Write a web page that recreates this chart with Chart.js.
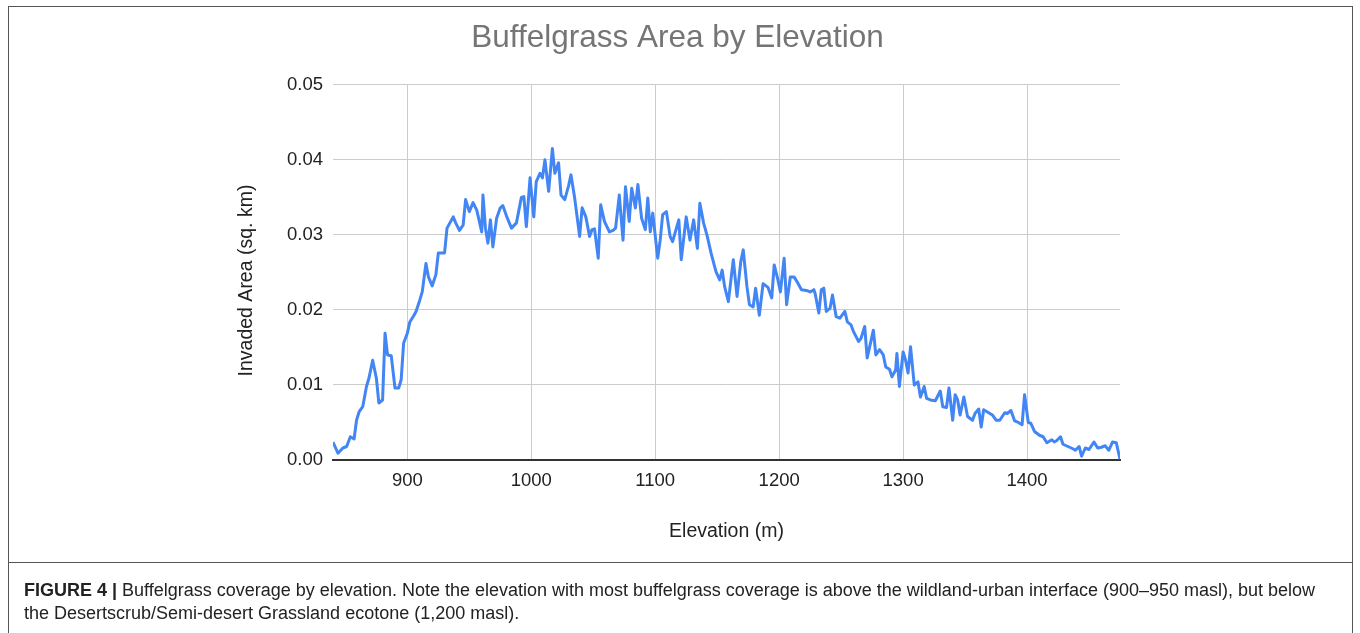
<!DOCTYPE html>
<html lang="en">
<head>
  <meta charset="UTF-8">
  <title>Buffelgrass Area by Elevation</title>
  <script src="https://cdn.jsdelivr.net/npm/chart.js"></script>
  <style>
    body { margin: 0; background: #fff; font-family: "Liberation Sans", Arial, sans-serif; }
    .page { position: relative; width: 1360px; height: 633px; overflow: hidden; }
    .frame { position: absolute; left: 8px; top: 6px; width: 1343px; height: 700px; border: 1px solid #555; }
    .rule { position: absolute; left: 8px; top: 562px; width: 1345px; height: 1px; background: #555; }
    #chart { position: absolute; left: 0; top: 0; }
    .caption { position: absolute; left: 24px; top: 579px; width: 1310px; font-size: 18px; line-height: 23px; color: #222; }
    .caption b { font-weight: bold; }
  </style>
</head>
<body>
  <div class="page">
    <canvas id="chart" width="1360" height="560"></canvas>
    <div class="frame"></div>
    <div class="rule"></div>
    <div class="caption"><b>FIGURE 4 |</b> Buffelgrass coverage by elevation. Note the elevation with most buffelgrass coverage is above the wildland-urban interface (900–950 masl), but below the Desertscrub/Semi-desert Grassland ecotone (1,200 masl).</div>
  </div>

  <script>
// elevation (m) and invaded area (sq. km)
const elevation = [
  840, 844, 848, 851, 854, 857, 859, 861, 864, 867, 869, 872, 875, 877, 880, 882, 884, 887, 890, 893,
  895, 897, 900, 902, 905, 907, 910, 912, 915, 917, 920, 923, 925, 928, 930, 932, 935, 937, 939, 942,
  945, 947, 950, 953, 956, 960, 961, 963, 965, 967, 969, 972, 975, 977, 980, 984, 988, 992, 994, 996,
  999, 1002, 1004, 1007, 1009, 1011, 1014, 1017, 1019, 1022, 1024, 1027, 1030, 1032, 1035, 1039, 1041, 1044, 1047, 1049,
  1051, 1054, 1056, 1059, 1063, 1066, 1068, 1071, 1074, 1076, 1079, 1081, 1084, 1086, 1089, 1092, 1094, 1096, 1098, 1102,
  1104, 1106, 1109, 1112, 1114, 1119, 1121, 1125, 1128, 1131, 1134, 1136, 1139, 1142, 1145, 1149, 1152, 1154, 1156, 1159,
  1163, 1166, 1169, 1171, 1174, 1176, 1179, 1181, 1184, 1187, 1191, 1194, 1196, 1199, 1201, 1204, 1206, 1209, 1212, 1215,
  1218, 1222, 1225, 1228, 1229, 1232, 1234, 1236, 1238, 1241, 1243, 1246, 1249, 1253, 1255, 1258, 1260, 1264, 1266, 1269,
  1271, 1274, 1276, 1278, 1281, 1284, 1286, 1289, 1291, 1294, 1295, 1297, 1300, 1302, 1304, 1306, 1309, 1312, 1314, 1317,
  1319, 1322, 1326, 1330, 1332, 1335, 1337, 1340, 1342, 1344, 1346, 1349, 1352, 1356, 1358, 1361, 1363, 1365, 1368, 1372,
  1375, 1378, 1382, 1384, 1387, 1390, 1393, 1396, 1398, 1401, 1403, 1406, 1410, 1413, 1416, 1420, 1422, 1424, 1427, 1429,
  1433, 1437, 1439, 1442, 1444, 1447, 1450, 1454, 1457, 1460, 1463, 1466, 1469, 1472, 1475
];
const area = [
  0.0024, 0.0009, 0.0016, 0.0018, 0.0031, 0.0028, 0.0053, 0.0064, 0.0071, 0.0098, 0.0109, 0.0133, 0.0109, 0.0076, 0.0080, 0.0169, 0.0140, 0.0139, 0.0096, 0.0096,
  0.0107, 0.0156, 0.0169, 0.0184, 0.0192, 0.0198, 0.0213, 0.0224, 0.0262, 0.0244, 0.0232, 0.0247, 0.0276, 0.0276, 0.0276, 0.0309, 0.0318, 0.0324, 0.0316, 0.0306,
  0.0313, 0.0347, 0.0331, 0.0343, 0.0333, 0.0304, 0.0353, 0.0309, 0.0289, 0.0320, 0.0284, 0.0322, 0.0336, 0.0339, 0.0325, 0.0309, 0.0316, 0.0350, 0.0351, 0.0311,
  0.0376, 0.0324, 0.0371, 0.0382, 0.0376, 0.0400, 0.0358, 0.0415, 0.0382, 0.0396, 0.0353, 0.0347, 0.0365, 0.0380, 0.0349, 0.0298, 0.0336, 0.0324, 0.0298, 0.0307,
  0.0308, 0.0269, 0.0340, 0.0318, 0.0304, 0.0306, 0.0309, 0.0353, 0.0293, 0.0364, 0.0318, 0.0362, 0.0336, 0.0367, 0.0322, 0.0307, 0.0349, 0.0304, 0.0329, 0.0269,
  0.0293, 0.0327, 0.0331, 0.0298, 0.0291, 0.0320, 0.0267, 0.0324, 0.0293, 0.0320, 0.0282, 0.0342, 0.0316, 0.0298, 0.0276, 0.0251, 0.0240, 0.0253, 0.0231, 0.0211,
  0.0267, 0.0218, 0.0264, 0.0280, 0.0231, 0.0207, 0.0204, 0.0229, 0.0193, 0.0235, 0.0230, 0.0216, 0.0260, 0.0240, 0.0224, 0.0269, 0.0207, 0.0244, 0.0244, 0.0236,
  0.0227, 0.0226, 0.0224, 0.0227, 0.0222, 0.0196, 0.0227, 0.0229, 0.0198, 0.0202, 0.0220, 0.0191, 0.0189, 0.0198, 0.0184, 0.0180, 0.0171, 0.0158, 0.0162, 0.0178,
  0.0136, 0.0158, 0.0173, 0.0140, 0.0147, 0.0140, 0.0124, 0.0121, 0.0111, 0.0120, 0.0142, 0.0098, 0.0144, 0.0133, 0.0116, 0.0151, 0.0100, 0.0104, 0.0084, 0.0098,
  0.0082, 0.0080, 0.0079, 0.0092, 0.0071, 0.0070, 0.0096, 0.0053, 0.0087, 0.0080, 0.0060, 0.0084, 0.0058, 0.0053, 0.0062, 0.0068, 0.0044, 0.0067, 0.0064, 0.0060,
  0.0053, 0.0053, 0.0063, 0.0062, 0.0066, 0.0052, 0.0050, 0.0047, 0.0087, 0.0050, 0.0049, 0.0038, 0.0033, 0.0031, 0.0023, 0.0027, 0.0024, 0.0026, 0.0031, 0.0021,
  0.0018, 0.0015, 0.0013, 0.0018, 0.0005, 0.0016, 0.0014, 0.0024, 0.0016, 0.0017, 0.0019, 0.0013, 0.0024, 0.0023, 0.0001
];

// axis settings
const xMin = 840, xMax = 1475, xStep = 100;
const yMin = 0, yMax = 0.05, yStep = 0.01;

const points = elevation.map((e, i) => ({ x: e, y: area[i] }));
const font = "'Liberation Sans', Arial, sans-serif";

new Chart(document.getElementById("chart"), {
  type: 'line',
  data: {
    datasets: [{
      label: 'Invaded Area',
      data: points,
      borderColor: '#4285f4',
      borderWidth: 3,
      pointRadius: 0,
      tension: 0,
      borderJoinStyle: 'round',
      fill: false
    }]
  },
  options: {
    responsive: false,
    animation: false,
    devicePixelRatio: 1,
    layout: { padding: { left: 235, right: 240, top: 0, bottom: 15 } },
    plugins: {
      legend: { display: false },
      tooltip: { enabled: false },
      title: {
        display: true,
        text: 'Buffelgrass Area by Elevation',
        color: '#757575',
        font: { family: font, size: 31.5, weight: 'normal' },
        padding: { top: 19, bottom: 28 }
      }
    },
    scales: {
      x: {
        type: 'linear',
        min: xMin,
        max: xMax,
        afterFit: s => { s.height = 85; },
        ticks: {
          stepSize: xStep,
          includeBounds: false,
          color: '#222',
          padding: 10,
          maxRotation: 0,
          font: { family: font, size: 18.5 },
          callback: v => String(v)
        },
        grid: { color: '#cccccc', lineWidth: 1, drawTicks: false },
        border: { display: true, color: '#333', width: 2 },
        title: {
          display: true,
          text: 'Elevation (m)',
          color: '#222',
          font: { family: font, size: 19.5 },
          padding: { top: 0, bottom: 2 }
        }
      },
      y: {
        min: yMin,
        max: yMax,
        afterFit: s => { s.width = 98; },
        ticks: {
          stepSize: yStep,
          color: '#222',
          padding: 10,
          font: { family: font, size: 18.5 },
          callback: v => v.toFixed(2)
        },
        grid: { color: '#cccccc', lineWidth: 1, drawTicks: false },
        border: { display: false },
        title: {
          display: true,
          text: 'Invaded Area (sq. km)   ',
          color: '#222',
          font: { family: font, size: 19.5 },
          padding: { top: 0, bottom: 0 }
        }
      }
    }
  }
});
  </script>
</body>
</html>
